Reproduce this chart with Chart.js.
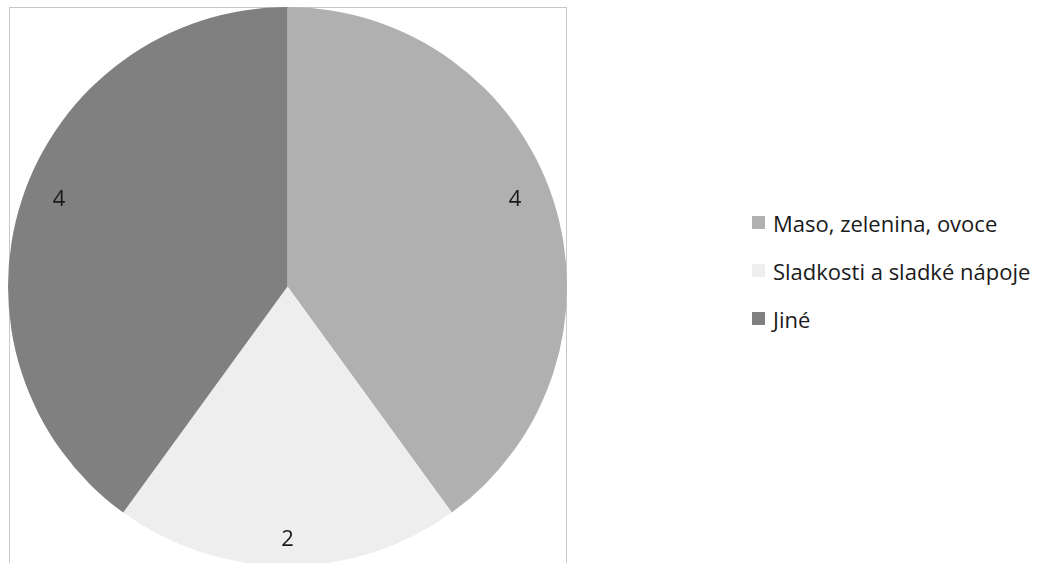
<!DOCTYPE html>
<html>
<head>
<meta charset="utf-8">
<script src="https://cdn.jsdelivr.net/npm/chart.js@4"></script>
<style>
  html, body { margin: 0; padding: 0; background: #fff; width: 1061px; height: 563px; overflow: hidden; }
  #frame { position: absolute; left: 9px; top: 7px; width: 558px; height: 600px; border: 1px solid #c8c8c8; box-sizing: border-box; }
  #wrap { position: absolute; left: 8px; top: 7px; width: 559px; height: 559px; }
  #legend { position: absolute; left: 752px; top: 0; font-family: "Open Sans", sans-serif; font-size: 22px; color: #1a1a1a; }
  .item { position: absolute; left: 0; height: 30px; display: flex; align-items: center; white-space: nowrap; line-height: 30px; }
  .sw { width: 13px; height: 13px; margin-right: 8px; flex: none; }
</style>
</head>
<body>
<div id="frame"></div>
<div id="wrap"><canvas id="c"></canvas></div>
<div id="legend"></div>
<script>
const categories = ["Maso, zelenina, ovoce", "Sladkosti a sladké nápoje", "Jiné"];
const values = [4, 2, 4];
const colors = ["#b0b0b0", "#eeeeee", "#808080"];

// label placement tweaks (style): offset from point at 0.88*radius on slice mid-angle
const labelOffsets = [[-6.5, -10.5], [0, 7.5], [5.5, -10.5]];

const labelPlugin = {
  id: 'sliceLabels',
  afterDatasetsDraw(chart) {
    const ctx = chart.ctx;
    const meta = chart.getDatasetMeta(0);
    ctx.save();
    ctx.font = '22px "Open Sans", sans-serif';
    ctx.fillStyle = '#1a1a1a';
    ctx.textAlign = 'center';
    ctx.textBaseline = 'middle';
    meta.data.forEach((arc, i) => {
      const p = arc.getProps(['x', 'y', 'startAngle', 'endAngle', 'outerRadius'], true);
      const mid = (p.startAngle + p.endAngle) / 2;
      const r = p.outerRadius * 0.88;
      const o = labelOffsets[i];
      ctx.fillText(String(values[i]), p.x + Math.cos(mid) * r + o[0], p.y + Math.sin(mid) * r + o[1]);
    });
    ctx.restore();
  }
};

new Chart(document.getElementById('c'), {
  type: 'pie',
  data: {
    labels: categories,
    datasets: [{ data: values, backgroundColor: colors, borderWidth: 0 }]
  },
  options: {
    responsive: true,
    maintainAspectRatio: false,
    animation: false,
    layout: { padding: 0 },
    plugins: { legend: { display: false }, tooltip: { enabled: false } }
  },
  plugins: [labelPlugin]
});

const leg = document.getElementById('legend');
categories.forEach((c, i) => {
  const d = document.createElement('div');
  d.className = 'item';
  d.style.top = (222.5 + i * 48 - 15) + 'px';
  const s = document.createElement('span');
  s.className = 'sw';
  s.style.background = colors[i];
  const t = document.createElement('span');
  t.textContent = c;
  d.appendChild(s); d.appendChild(t);
  leg.appendChild(d);
});
</script>
</body>
</html>
